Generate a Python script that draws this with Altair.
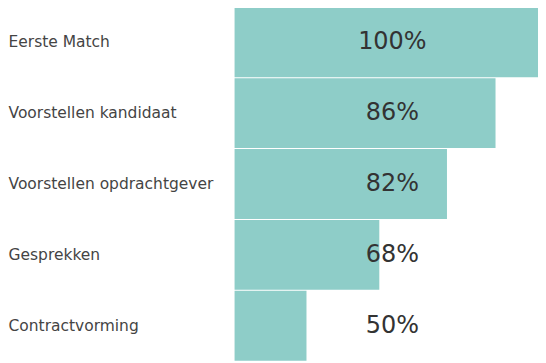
import altair as alt
import pandas as pd

stages = ["Eerste Match", "Voorstellen kandidaat", "Voorstellen opdrachtgever",
          "Gesprekken", "Contractvorming"]
bar_values = [100, 86, 70, 47.7, 23.7]
labels = ["100%", "86%", "82%", "68%", "50%"]

df = pd.DataFrame({"stage": stages, "value": bar_values, "label": labels})

y = alt.Y("stage:N", sort=stages, title="",
          scale=alt.Scale(paddingInner=0.014, paddingOuter=0),
          axis=alt.Axis(labelAlign="left", labelPadding=227, ticks=False,
                        domain=False, labelFontSize=15.5, labelColor="#444444",
                        labelFont="DejaVu Sans", labelLimit=400))

base = alt.Chart(df)

bars = base.mark_bar(color="#8ecdc8").encode(
    x=alt.X("value:Q", scale=alt.Scale(domain=[0, 100], nice=False), axis=None),
    y=y,
)

text = base.mark_text(fontSize=24, font="DejaVu Sans", color="#333333",
                      align="center", baseline="middle").encode(
    x=alt.datum(52),
    y=alt.Y("stage:N", sort=stages),
    text="label:N",
)

chart = alt.layer(bars, text).properties(
    width=304, height=354, padding={"left": 0, "top": -2, "right": 0, "bottom": 0}
).configure_view(stroke=None)

chart.save("out.html", embed_options={"renderer": "svg", "actions": False})
